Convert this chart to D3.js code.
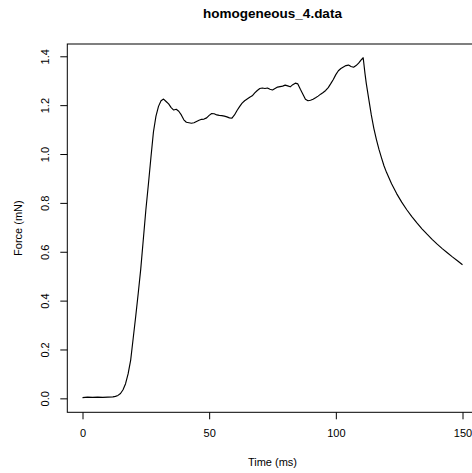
<!DOCTYPE html>
<html>
<head>
<meta charset="utf-8">
<script src="https://cdn.jsdelivr.net/npm/d3@7"></script>
<style>
  body { margin: 0; background: #fff; }
  svg { display: block; font-family: "Liberation Sans", Arial, Helvetica, sans-serif; }
</style>
</head>
<body>
<div id="chart"></div>
<script>
// trace (time in ms, force in mN)
const time = [0, 2, 4, 6, 8, 10, 12, 13, 14, 15, 16, 17, 18, 19, 20, 21, 22, 23, 24, 25,
  26, 27, 28, 29, 30, 31, 32, 33, 34, 35, 36, 37, 38, 39, 40, 41, 42, 43, 44, 45,
  46, 47, 48, 49, 50, 51, 52, 53, 54, 55, 56, 57, 58, 59, 60, 61, 62, 63, 64, 65,
  66, 67, 68, 69, 70, 71, 72, 73, 74, 75, 76, 77, 78, 79, 80, 81, 82, 83, 84, 85,
  86, 87, 88, 89, 90, 91, 92, 93, 94, 95, 96, 97, 98, 99, 100, 101, 102, 103, 104, 105,
  106, 107, 108, 109, 110, 110.8, 111.5, 112, 113, 114, 115, 116, 117, 118, 119, 120,
  122, 124, 126, 128, 130, 132, 134, 136, 138, 140, 142, 144, 146, 148, 150];
const force = [0.003, 0.005, 0.004, 0.005, 0.004, 0.005, 0.006, 0.008, 0.012, 0.02, 0.035, 0.06, 0.1, 0.155, 0.245, 0.335, 0.43, 0.53, 0.65, 0.77,
  0.875, 0.985, 1.09, 1.155, 1.195, 1.218, 1.225, 1.215, 1.205, 1.19, 1.18, 1.183, 1.175, 1.16, 1.14, 1.13, 1.128, 1.126, 1.128, 1.133,
  1.138, 1.142, 1.143, 1.148, 1.158, 1.166, 1.165, 1.16, 1.158, 1.157, 1.155, 1.152, 1.148, 1.147, 1.16, 1.178, 1.194, 1.208, 1.218, 1.225,
  1.232, 1.238, 1.25, 1.26, 1.268, 1.27, 1.268, 1.27, 1.265, 1.262, 1.268, 1.274, 1.276, 1.278, 1.282, 1.279, 1.275, 1.284, 1.29, 1.287,
  1.265, 1.245, 1.224, 1.218, 1.22, 1.224, 1.23, 1.237, 1.245, 1.252, 1.26, 1.272, 1.288, 1.305, 1.325, 1.341, 1.35, 1.356, 1.362, 1.364,
  1.358, 1.355, 1.362, 1.372, 1.385, 1.394, 1.33, 1.29, 1.225, 1.16, 1.105, 1.06, 1.02, 0.985, 0.952, 0.925,
  0.878, 0.838, 0.803, 0.772, 0.744, 0.718, 0.694, 0.672, 0.651, 0.631, 0.613, 0.596, 0.579, 0.563, 0.547];

const xTicks = [0, 50, 100, 150];
const yTicks = [0, 0.2, 0.4, 0.6, 0.8, 1.0, 1.2, 1.4];

const W = 472, H = 473;
// plot region (R-style, 4% padding on both axes; right edge runs off the page)
const plot = { left: 67.3, right: 477.7, top: 44, bottom: 412.3 };

const svg = d3.select("#chart").append("svg")
    .attr("width", W)
    .attr("height", H);

const x = d3.scaleLinear().domain([-6, 156]).range([plot.left, plot.right]);
const y = d3.scaleLinear().domain([-0.0571, 1.4503]).range([plot.bottom, plot.top]);

// box
svg.append("rect")
    .attr("x", plot.left).attr("y", plot.top)
    .attr("width", plot.right - plot.left).attr("height", plot.bottom - plot.top)
    .attr("fill", "none").attr("stroke", "#000").attr("stroke-width", 1);

// x axis
const gx = svg.append("g")
    .attr("transform", `translate(0, ${plot.bottom})`)
    .call(d3.axisBottom(x).tickValues(xTicks).tickSize(7).tickSizeOuter(0).tickPadding(10)
        .tickFormat(d3.format("d")));
gx.select(".domain").remove();
gx.selectAll("line").attr("stroke", "#000");
gx.selectAll("text").attr("font-size", 11).attr("fill", "#000")
    .attr("font-family", "Liberation Sans, Arial, sans-serif");

// y axis, labels turned like R's default
const gy = svg.append("g")
    .attr("transform", `translate(${plot.left}, 0)`)
    .call(d3.axisLeft(y).tickValues(yTicks).tickSize(7).tickSizeOuter(0)
        .tickFormat(d3.format(".1f")));
gy.select(".domain").remove();
gy.selectAll("line").attr("stroke", "#000");
gy.selectAll("text")
    .attr("x", null)
    .attr("font-size", 11).attr("fill", "#000")
    .attr("font-family", "Liberation Sans, Arial, sans-serif")
    .attr("text-anchor", "middle")
    .attr("transform", "translate(-22, 0) rotate(-90)")
    .attr("dy", "0.35em");

// force trace
const line = d3.line()
    .x((d, i) => x(time[i]))
    .y(d => y(d));

svg.append("path")
    .datum(force)
    .attr("fill", "none")
    .attr("stroke", "#000")
    .attr("stroke-width", 1.15)
    .attr("stroke-linejoin", "round")
    .attr("d", line);

// titles
const cx = (plot.left + plot.right) / 2;
svg.append("text")
    .attr("x", cx).attr("y", 18)
    .attr("text-anchor", "middle")
    .attr("font-size", 13.5).attr("font-weight", "bold")
    .text("homogeneous_4.data");

svg.append("text")
    .attr("x", cx).attr("y", 466)
    .attr("text-anchor", "middle")
    .attr("font-size", 11)
    .text("Time (ms)");

svg.append("text")
    .attr("transform", `translate(22, ${(plot.top + plot.bottom) / 2}) rotate(-90)`)
    .attr("text-anchor", "middle")
    .attr("font-size", 11)
    .text("Force (mN)");
</script>
</body>
</html>
